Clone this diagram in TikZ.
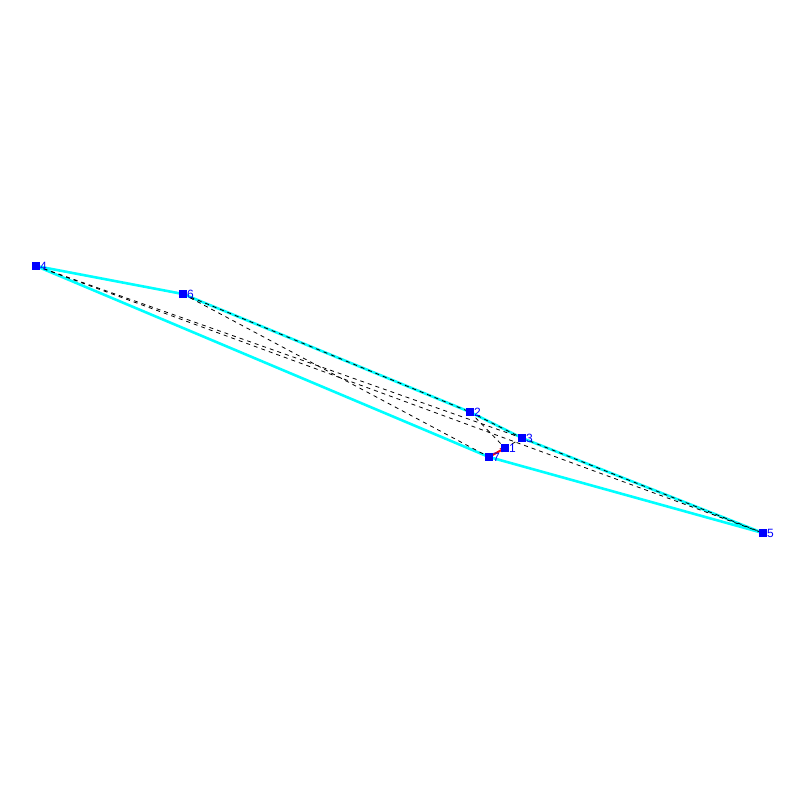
\documentclass[tikz,border=0pt]{standalone}
\usepackage{fontspec}
\setmainfont{Liberation Sans}
\usetikzlibrary{arrows.meta}
\definecolor{hullc}{RGB}{0,255,255}
\definecolor{ptc}{RGB}{0,0,255}
\tikzset{
  pt/.style={fill=ptc,draw=none,minimum size=8pt,inner sep=0pt,rectangle},
  lbl/.style={text=ptc,font=\fontsize{12}{12}\selectfont,inner sep=0pt,anchor=west},
  hull/.style={draw=hullc,line width=2.6pt,line join=round},
  dsh/.style={draw=black,line width=0.8pt,dash pattern=on 4pt off 4pt},
  arr/.style={draw=red,line width=2pt,-{Stealth[length=5pt,width=5pt]}}
}
\begin{document}
\begin{tikzpicture}[x=1pt,y=-1pt]
\useasboundingbox (0,0) rectangle (800,800);
\coordinate (p1) at (505,448);
\coordinate (p2) at (470,412);
\coordinate (p3) at (522,438);
\coordinate (p4) at (36,266);
\coordinate (p5) at (763,533);
\coordinate (p6) at (183,294);
\coordinate (p7) at (489,457);
% hull
\draw[hull] (p4) -- (p6) -- (p2) -- (p3) -- (p5) -- (p7) -- cycle;
% dashed edges
\draw[dsh] (p6) -- (p2);
\draw[dsh] (p2) -- (p3);
\draw[dsh] (p3) -- (p5);
\draw[dsh] (p4) -- (p5);
\draw[dsh] (p4) -- (p3);
\draw[dsh] (p6) -- (p7);
\draw[dsh] (p2) -- (p1);
\draw[dsh] (p1) -- (p3);
% red arrow
\draw[arr] (p7) -- (p1);
% points
\foreach \i in {1,...,7} {\node[pt] (n\i) at (p\i) {};}
\foreach \i in {1,...,7} {\node[lbl] (l\i) at ([xshift=4pt]p\i) {\i};}
\end{tikzpicture}
\end{document}
